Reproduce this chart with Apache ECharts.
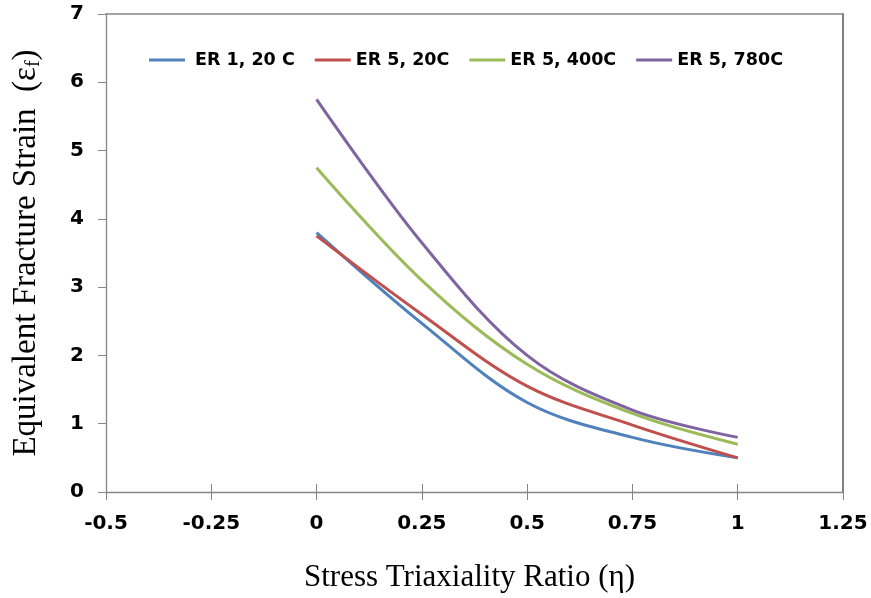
<!DOCTYPE html>
<html>
<head>
<meta charset="utf-8">
<script src="https://cdn.jsdelivr.net/npm/echarts@6/dist/echarts.min.js"></script>
<style>html,body{margin:0;padding:0;background:#fff}#c{width:871px;height:598px}</style>
</head>
<body>
<div id="c"></div>
<script>
const xValues = [0, 0.25, 0.5, 0.75, 1];
const er1_20 = [3.8, 2.47, 1.31, 0.8, 0.5];
const er5_20 = [3.75, 2.6, 1.55, 0.98, 0.5];
const er5_400 = [4.75, 3.1, 1.87, 1.15, 0.7];
const er5_780 = [5.75, 3.65, 2.0, 1.2, 0.8];
const seriesNames = ['ER 1, 20 C', 'ER 5, 20C', 'ER 5, 400C', 'ER 5, 780C'];
const seriesData = [er1_20, er5_20, er5_400, er5_780];
const colors = ['#4F81BD', '#C0504D', '#9BBB59', '#8064A2'];

const axisColor = '#868686';
const labelFont = {fontFamily: 'DejaVu Sans', fontWeight: 'bold', fontSize: 20, color: '#000'};

const chart = echarts.init(document.getElementById('c'));
chart.setOption({
  animation: false,
  backgroundColor: '#fff',
  grid: {left: 106, right: 28, top: 14, bottom: 104},
  legend: {
    left: 144, top: 46,
    icon: 'rect', itemWidth: 36, itemHeight: 3, itemGap: 20,
    textStyle: {fontFamily: 'DejaVu Sans', fontWeight: 'bold', fontSize: 17.5, color: '#000'},
    data: seriesNames.map((n, i) => i === 0 ? {name: n, textStyle: {padding: [0, 0, 0, 5]}} : {name: n})
  },
  xAxis: [{
    type: 'value', min: -0.5, max: 1.25, interval: 0.25, position: 'bottom',
    axisLine: {onZero: false, lineStyle: {color: axisColor, width: 1.3}},
    axisTick: {inside: false, length: 8, lineStyle: {color: axisColor}},
    splitLine: {show: false},
    axisLabel: Object.assign({margin: 22}, labelFont),
    name: 'Stress Triaxiality Ratio (η)', nameLocation: 'middle', nameGap: 70,
    nameTextStyle: {fontFamily: 'Liberation Serif', fontSize: 31, color: '#000', padding: [0, 10, 0, 0]}
  }, {
    type: 'value', min: -0.5, max: 1.25, interval: 0.25, position: 'bottom',
    axisLine: {show: false, onZero: false},
    axisTick: {inside: true, length: 8, lineStyle: {color: axisColor}},
    splitLine: {show: false}, axisLabel: {show: false}
  }, {
    type: 'value', min: -0.5, max: 1.25, interval: 0.25, position: 'top',
    axisLine: {onZero: false, lineStyle: {color: axisColor, width: 1.6}},
    axisTick: {show: false}, splitLine: {show: false}, axisLabel: {show: false}
  }],
  yAxis: [{
    type: 'value', min: 0, max: 7, interval: 1, position: 'left',
    axisLine: {show: true, onZero: false, lineStyle: {color: axisColor, width: 1.3}},
    axisTick: {show: true, inside: false, length: 8, lineStyle: {color: axisColor}},
    splitLine: {show: false},
    axisLabel: Object.assign({margin: 22}, labelFont),
    name: 'Equivalent Fracture Strain  (ε{sub|f})', nameLocation: 'middle', nameGap: 62, nameRotate: 90,
    nameTextStyle: {fontFamily: 'Liberation Serif', fontSize: 33, color: '#000',
      rich: {sub: {fontFamily: 'Liberation Serif', fontSize: 20, color: '#000', padding: [15, 0, 0, 0]}}}
  }, {
    type: 'value', min: 0, max: 7, interval: 1, position: 'right',
    axisLine: {show: true, onZero: false, lineStyle: {color: '#808080', width: 2}},
    axisTick: {show: false}, splitLine: {show: false}, axisLabel: {show: false}
  }],
  series: seriesNames.map((n, i) => ({
    name: n, type: 'line', smooth: 0.35, showSymbol: false, symbol: 'none',
    xAxisIndex: 0, yAxisIndex: 0,
    lineStyle: {color: colors[i], width: 3},
    itemStyle: {color: colors[i]},
    data: xValues.map((x, j) => [x, seriesData[i][j]])
  }))
});
</script>
</body>
</html>
